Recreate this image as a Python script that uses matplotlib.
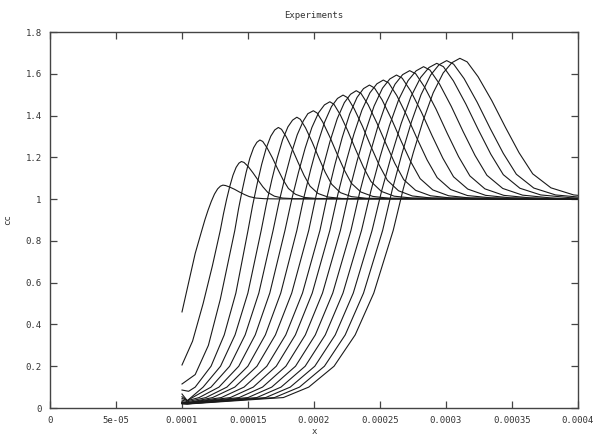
import matplotlib
matplotlib.use("Agg")
import matplotlib.pyplot as plt

# x values in units of 1e-5, y values (cc)
x01 = [10, 10.5, 11.0, 11.5, 11.74, 11.98, 12.22, 12.46, 12.7, 12.91, 13.1, 13.3, 13.6, 13.98, 14.35, 14.73, 15.1, 15.6, 16.23, 17.1, 40]
y01 = [0.46, 0.60, 0.74, 0.85, 0.902, 0.948, 0.989, 1.024, 1.049, 1.062, 1.067, 1.065, 1.058, 1.047, 1.034, 1.022, 1.012, 1.005, 1.002, 1.001, 1.0]

x02 = [10, 10.8, 11.6, 12.3, 12.9, 13.14, 13.38, 13.62, 13.86, 14.1, 14.31, 14.5, 14.7, 15.0, 15.375, 15.75, 16.125, 16.5, 17.0, 17.625, 18.5, 40]
y02 = [0.206, 0.32, 0.50, 0.68, 0.85, 0.929, 0.999, 1.061, 1.114, 1.152, 1.172, 1.18, 1.1755, 1.157, 1.126, 1.092, 1.059, 1.032, 1.014, 1.005, 1.002, 1.0]

x03 = [10, 11.0, 12.0, 12.9, 14.0, 14.285, 14.57, 14.855, 15.14, 15.425, 15.672, 15.9, 16.116, 16.44, 16.845, 17.25, 17.655, 18.06, 18.6, 19.275, 20.22, 40]
y03 = [0.115, 0.16, 0.30, 0.52, 0.85, 0.954, 1.045, 1.127, 1.196, 1.246, 1.272, 1.283, 1.276, 1.246, 1.198, 1.144, 1.093, 1.051, 1.023, 1.008, 1.003, 1.0]

x04 = [10, 10.5, 11.0, 12.2, 13.2, 14.08, 15.0, 15.345, 15.69, 16.035, 16.38, 16.725, 17.024, 17.3, 17.54, 17.9, 18.35, 18.8, 19.25, 19.7, 20.3, 21.05, 22.1, 40]
y04 = [0.086, 0.08, 0.10, 0.20, 0.35, 0.55, 0.85, 0.968, 1.072, 1.166, 1.244, 1.301, 1.331, 1.343, 1.334, 1.298, 1.240, 1.175, 1.113, 1.062, 1.027, 1.010, 1.003, 1.0]

x05 = [10, 10.4, 11.6, 12.92, 14.02, 14.99, 16.0, 16.405, 16.81, 17.215, 17.62, 18.025, 18.376, 18.7, 18.964, 19.36, 19.855, 20.35, 20.845, 21.34, 22.0, 22.825, 23.98, 40]
y05 = [0.067, 0.035, 0.10, 0.20, 0.35, 0.55, 0.85, 0.980, 1.094, 1.197, 1.284, 1.346, 1.378, 1.392, 1.382, 1.341, 1.274, 1.200, 1.129, 1.071, 1.031, 1.012, 1.004, 1.0]

x06 = [10, 10.4, 10.79, 12.2, 13.61, 14.785, 15.82, 16.9, 17.358, 17.815, 18.273, 18.73, 19.188, 19.534, 19.95, 20.238, 20.67, 21.21, 21.75, 22.29, 22.83, 23.55, 24.45, 25.71, 40]
y06 = [0.054, 0.035, 0.05, 0.10, 0.20, 0.35, 0.55, 0.85, 0.988, 1.108, 1.217, 1.308, 1.374, 1.409, 1.423, 1.412, 1.368, 1.296, 1.216, 1.140, 1.076, 1.034, 1.013, 1.004, 1.0]

x07 = [10, 10.4, 11.3, 12.8, 14.3, 15.55, 16.65, 17.8, 18.31, 18.82, 19.33, 19.84, 20.35, 20.79, 21.2, 21.512, 21.98, 22.565, 23.15, 23.735, 24.32, 25.1, 26.075, 27.44, 40]
y07 = [0.046, 0.035, 0.05, 0.10, 0.20, 0.35, 0.55, 0.85, 0.998, 1.127, 1.244, 1.343, 1.414, 1.451, 1.466, 1.454, 1.405, 1.326, 1.238, 1.154, 1.084, 1.037, 1.014, 1.005, 1.0]

x08 = [10, 10.4, 11.81, 13.4, 14.99, 16.315, 17.481, 18.7, 19.225, 19.75, 20.275, 20.8, 21.325, 21.78, 22.2, 22.536, 23.04, 23.67, 24.3, 24.93, 25.56, 26.4, 27.45, 28.92, 40]
y08 = [0.038, 0.03, 0.05, 0.10, 0.20, 0.35, 0.55, 0.85, 1.006, 1.142, 1.265, 1.368, 1.443, 1.482, 1.498, 1.486, 1.433, 1.349, 1.254, 1.164, 1.090, 1.040, 1.015, 1.005, 1.0]

x09 = [10, 10.4, 12.32, 14.0, 15.68, 17.08, 18.312, 19.6, 20.14, 20.68, 21.22, 21.76, 22.3, 22.768, 23.2, 23.56, 24.1, 24.775, 25.45, 26.125, 26.8, 27.7, 28.825, 30.4, 40]
y09 = [0.030, 0.025, 0.05, 0.10, 0.20, 0.35, 0.55, 0.85, 1.011, 1.151, 1.278, 1.385, 1.462, 1.502, 1.519, 1.506, 1.452, 1.363, 1.265, 1.171, 1.093, 1.042, 1.016, 1.005, 1.0]

x10 = [10, 10.4, 12.98, 14.7, 16.425, 17.863, 19.128, 20.45, 21.013, 21.575, 22.138, 22.7, 23.263, 23.75, 24.2, 24.584, 25.16, 25.88, 26.6, 27.32, 28.04, 29.0, 30.2, 31.88, 40]
y10 = [0.028, 0.025, 0.05, 0.10, 0.20, 0.35, 0.55, 0.85, 1.017, 1.163, 1.295, 1.407, 1.487, 1.529, 1.546, 1.532, 1.475, 1.382, 1.278, 1.180, 1.098, 1.044, 1.016, 1.005, 1.0]

x11 = [10, 10.4, 13.66, 15.4, 17.14, 18.59, 19.866, 21.2, 21.808, 22.415, 23.023, 23.63, 24.238, 24.764, 25.25, 25.658, 26.27, 27.035, 27.8, 28.565, 29.33, 30.35, 31.625, 33.41, 40]
y11 = [0.026, 0.024, 0.05, 0.10, 0.20, 0.35, 0.55, 0.85, 1.023, 1.174, 1.311, 1.426, 1.509, 1.552, 1.570, 1.556, 1.496, 1.399, 1.291, 1.188, 1.103, 1.046, 1.017, 1.006, 1.0]

x12 = [10, 10.4, 14.33, 16.1, 17.87, 19.345, 20.643, 22.0, 22.638, 23.275, 23.913, 24.55, 25.188, 25.74, 26.25, 26.682, 27.33, 28.14, 28.95, 29.76, 30.57, 31.65, 33.0, 34.89, 40]
y12 = [0.025, 0.023, 0.05, 0.10, 0.20, 0.35, 0.55, 0.85, 1.029, 1.185, 1.326, 1.445, 1.531, 1.575, 1.594, 1.579, 1.517, 1.416, 1.303, 1.196, 1.107, 1.048, 1.018, 1.006, 1.0]

x13 = [10, 10.4, 15.0, 16.8, 18.6, 20.1, 21.42, 22.8, 23.468, 24.135, 24.803, 25.47, 26.138, 26.716, 27.25, 27.706, 28.39, 29.245, 30.1, 30.955, 31.81, 32.95, 34.375, 36.37, 40]
y13 = [0.024, 0.022, 0.05, 0.10, 0.20, 0.35, 0.55, 0.85, 1.034, 1.194, 1.340, 1.462, 1.550, 1.596, 1.615, 1.600, 1.535, 1.431, 1.314, 1.203, 1.111, 1.049, 1.018, 1.006, 1.0]

x14 = [10, 10.4, 15.67, 17.5, 19.33, 20.855, 22.197, 23.6, 24.305, 25.01, 25.715, 26.42, 27.125, 27.736, 28.3, 28.78, 29.5, 30.4, 31.3, 32.2, 33.1, 34.3, 35.8, 37.9, 40]
y14 = [0.023, 0.021, 0.05, 0.10, 0.20, 0.35, 0.55, 0.85, 1.038, 1.203, 1.352, 1.477, 1.567, 1.614, 1.634, 1.618, 1.552, 1.444, 1.323, 1.209, 1.114, 1.051, 1.019, 1.006, 1.0]

x15 = [10, 10.4, 16.34, 18.2, 20.06, 21.61, 22.974, 24.4, 25.135, 25.87, 26.605, 27.34, 28.075, 28.712, 29.3, 29.804, 30.56, 31.505, 32.45, 33.395, 34.34, 35.6, 37.175, 39.38, 40]
y15 = [0.022, 0.020, 0.05, 0.10, 0.20, 0.35, 0.55, 0.85, 1.042, 1.21, 1.362, 1.49, 1.582, 1.63, 1.65, 1.634, 1.566, 1.455, 1.332, 1.215, 1.117, 1.052, 1.020, 1.007, 1.005]

x16 = [10, 10.4, 17.01, 18.9, 20.79, 22.365, 23.751, 25.2, 25.928, 26.655, 27.383, 28.11, 28.838, 29.468, 30.05, 30.578, 31.37, 32.36, 33.35, 34.34, 35.33, 36.65, 38.3, 40]
y16 = [0.021, 0.020, 0.05, 0.10, 0.20, 0.35, 0.55, 0.85, 1.045, 1.216, 1.370, 1.50, 1.594, 1.643, 1.663, 1.646, 1.577, 1.464, 1.338, 1.219, 1.119, 1.053, 1.020, 1.01]

x17 = [10, 10.4, 17.68, 19.6, 21.52, 23.12, 24.528, 26.0, 26.758, 27.515, 28.273, 29.03, 29.788, 30.444, 31.05, 31.602, 32.43, 33.465, 34.5, 35.535, 36.57, 37.95, 39.675, 40]
y17 = [0.020, 0.019, 0.05, 0.10, 0.20, 0.35, 0.55, 0.85, 1.048, 1.221, 1.377, 1.509, 1.604, 1.653, 1.674, 1.657, 1.586, 1.472, 1.344, 1.222, 1.121, 1.054, 1.020, 1.018]

curves = [(x01, y01), (x02, y02), (x03, y03), (x04, y04), (x05, y05), (x06, y06),
          (x07, y07), (x08, y08), (x09, y09), (x10, y10), (x11, y11), (x12, y12),
          (x13, y13), (x14, y14), (x15, y15), (x16, y16), (x17, y17)]

xticks = [0, 5e-5, 1e-4, 1.5e-4, 2e-4, 2.5e-4, 3e-4, 3.5e-4, 4e-4]
xticklabels = ["0", "5e-05", "0.0001", "0.00015", "0.0002", "0.00025", "0.0003", "0.00035", "0.0004"]
yticks = [0, 0.2, 0.4, 0.6, 0.8, 1.0, 1.2, 1.4, 1.6, 1.8]
yticklabels = ["0", "0.2", "0.4", "0.6", "0.8", "1", "1.2", "1.4", "1.6", "1.8"]

plt.rcParams['font.family'] = ['DejaVu Sans Mono']
fig = plt.figure(figsize=(6.0, 4.37), dpi=100)
ax = fig.add_axes([50/600, 29/437, 528/600, 376/437])

for cx, cy in curves:
    ax.plot([v * 1e-5 for v in cx], cy, color='#1a1a1a', lw=0.8)

ax.set_xlim(0, 4e-4)
ax.set_ylim(0, 1.8)
ax.set_xticks(xticks)
ax.set_xticklabels(xticklabels)
ax.set_yticks(yticks)
ax.set_yticklabels(yticklabels)
ax.tick_params(direction='in', length=5, width=0.9, top=True, right=True,
               labelsize=6.5, labelcolor='#333333', color='#444444')
ax.tick_params(axis='x', pad=6)
ax.tick_params(axis='y', pad=6)
for s in ax.spines.values():
    s.set_color('#444444')
    s.set_linewidth(1.0)

ax.set_title("Experiments", fontsize=6.5, color='#333333', pad=10)
ax.set_ylabel("cc", fontsize=6.5, color='#333333', labelpad=10)
ax.set_xlabel("x", fontsize=6.5, color='#333333', labelpad=1)

fig.savefig("out.png", dpi=100)
